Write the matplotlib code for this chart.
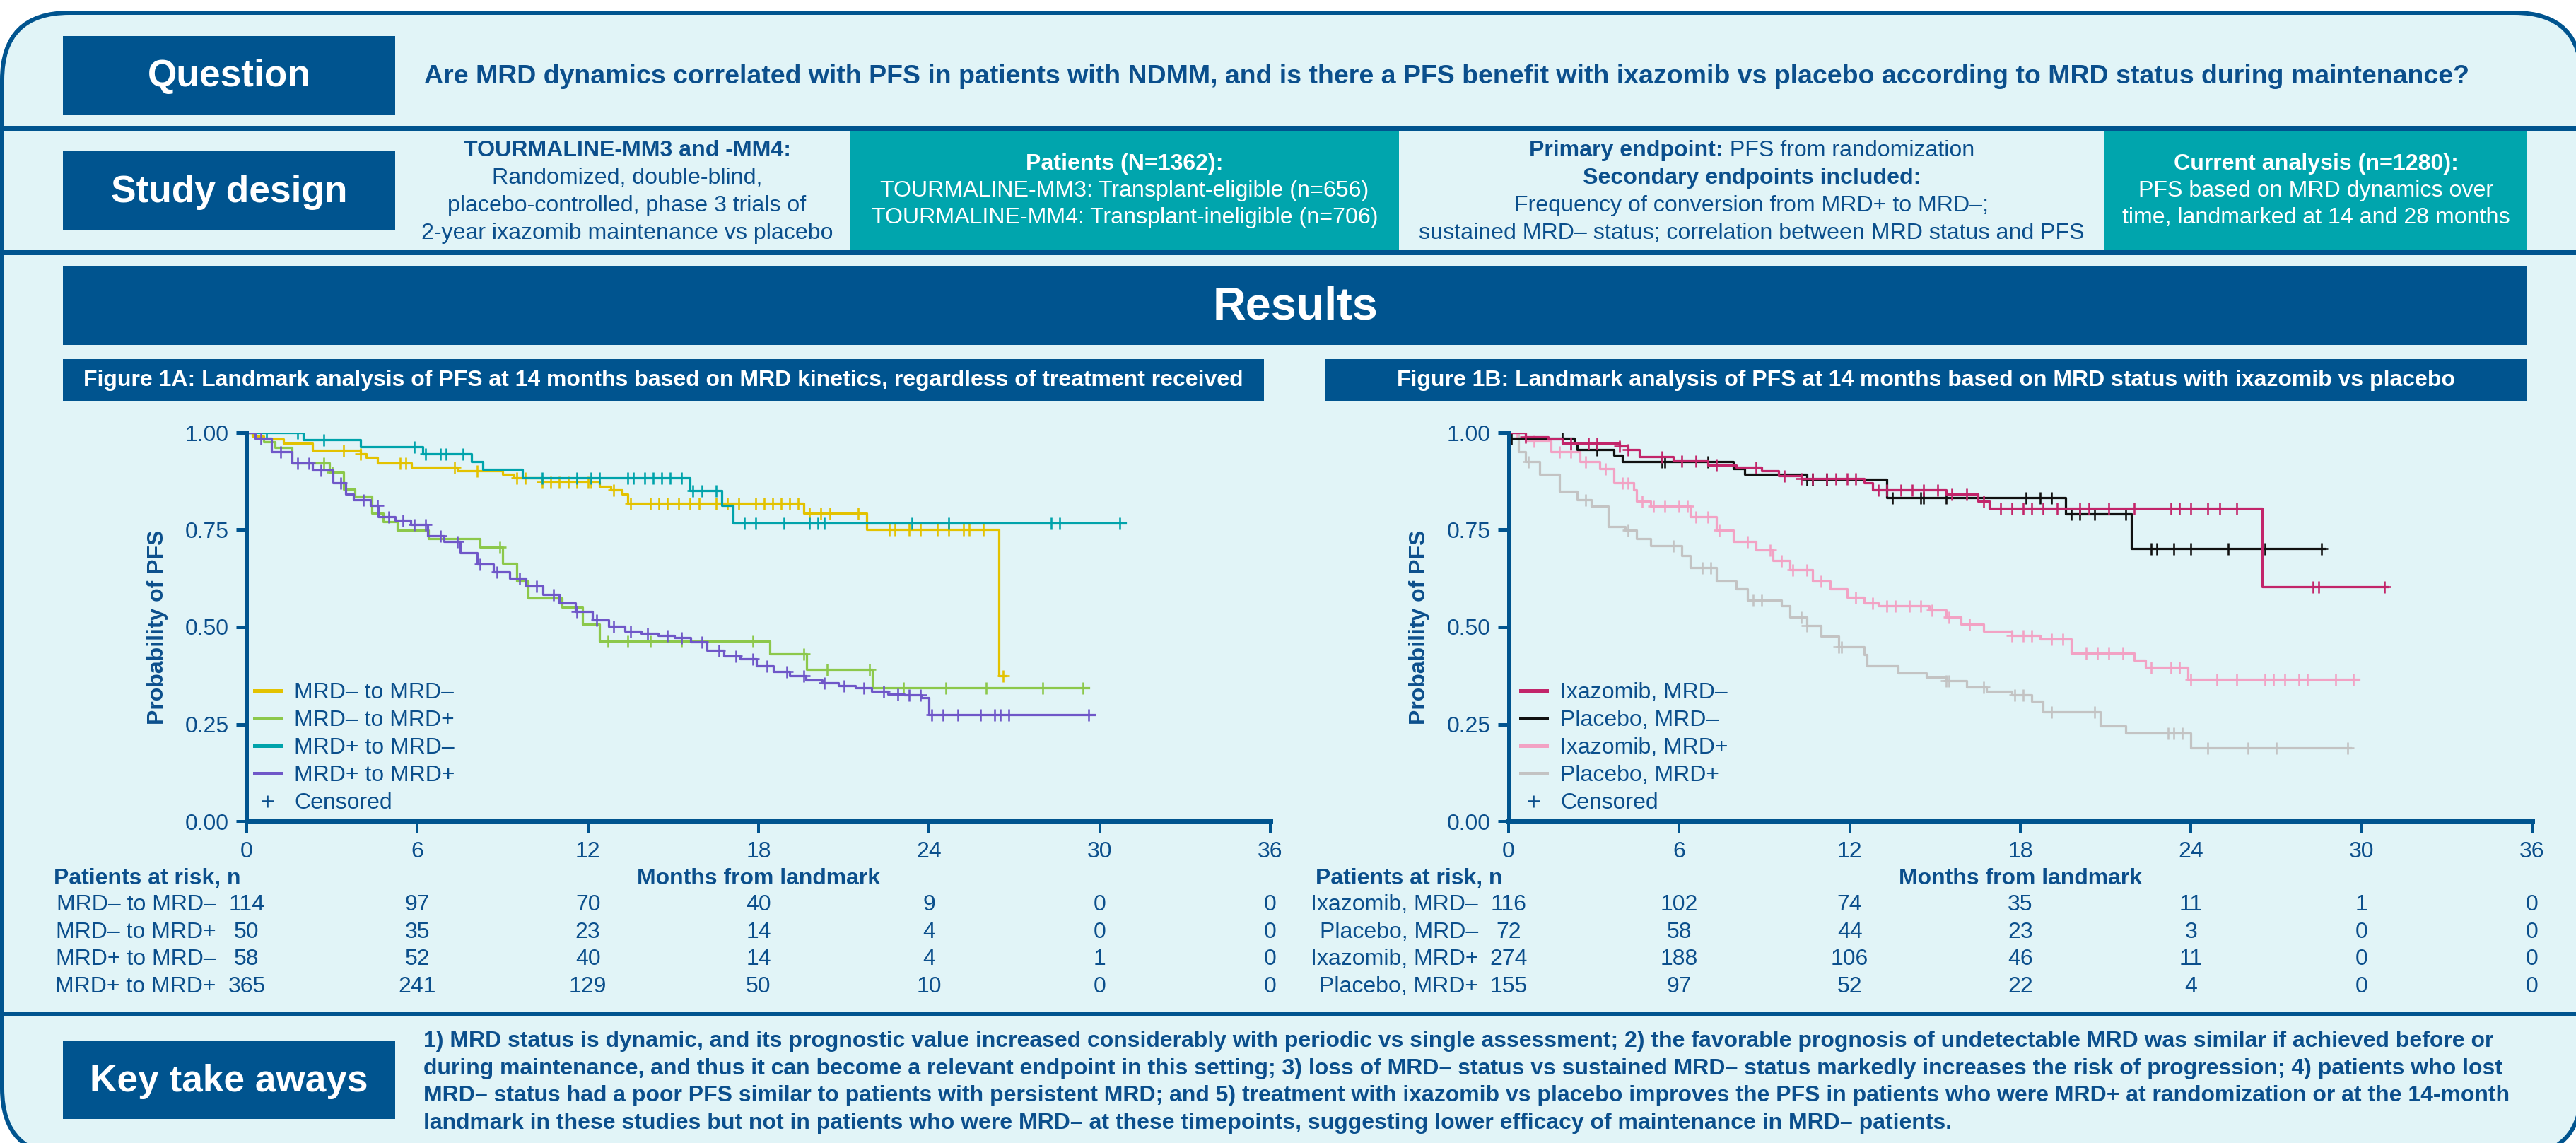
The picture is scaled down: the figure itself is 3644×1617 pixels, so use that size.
import numpy as np
import matplotlib.pyplot as plt
from matplotlib.patches import FancyBboxPatch, Rectangle
from matplotlib.lines import Line2D
from matplotlib import transforms

W, H = 3644, 1617
DPI = 200
plt.rcParams['font.family'] = ['Liberation Sans', 'DejaVu Sans']

NAVY = '#00548f'
TEXT = '#0b4f8c'
TEAL = '#00a5ad'
BG = '#e1f4f7'


def pt(px):
    return px * 72 / DPI


# ---------------- data ----------------
risk_times = [0, 6, 12, 18, 24, 30, 36]

# Figure 1A  (MRD kinetics)
a_labels = ['MRD– to MRD–', 'MRD– to MRD+', 'MRD+ to MRD–', 'MRD+ to MRD+']
a_colors = ['#e3c200', '#8cc84b', '#00a3ab', '#6f57c8']
a_risk = [[114, 97, 70, 40, 9, 0, 0],
          [50, 35, 23, 14, 4, 0, 0],
          [58, 52, 40, 14, 4, 1, 0],
          [365, 241, 129, 50, 10, 0, 0]]

yel_t = [0, 0.2, 0.6, 1.3, 2.3, 4.0, 4.2, 4.6, 5.8, 7.4, 9.0, 9.4, 10.4, 12.4, 12.8, 13.2, 13.4, 19.6, 21.8, 26.45, 26.7]
yel_s = [1.0, 0.991, 0.983, 0.973, 0.955, 0.946, 0.937, 0.921, 0.911, 0.902, 0.892, 0.883, 0.873, 0.862, 0.853, 0.842, 0.818, 0.792, 0.750, 0.375, 0.375]
yel_c = [3.4, 4.0, 5.4, 5.6, 7.3, 8.1, 9.5, 9.8, 10.4, 10.7, 11.0, 11.3, 11.6, 12.0, 12.1, 12.9, 13.5, 14.2, 14.5,
         14.8, 15.2, 15.6, 15.9, 16.5, 16.9, 17.3, 17.9, 18.2, 18.5, 18.8, 19.1, 19.4, 19.8, 20.2, 20.5, 21.5,
         22.6, 22.8, 23.3, 23.7, 24.3, 24.7, 25.2, 25.4, 25.9, 26.6]

grn_t = [0, 0.3, 0.6, 1.0, 1.6, 2.9, 3.4, 3.8, 4.4, 4.8, 5.3, 6.4, 8.2, 9.0, 9.5, 9.9, 11.1, 11.8, 12.4, 18.4, 19.7, 22.0, 29.6]
grn_s = [1.0, 0.986, 0.977, 0.962, 0.921, 0.899, 0.854, 0.836, 0.792, 0.770, 0.749, 0.727, 0.705, 0.664, 0.619, 0.575, 0.551, 0.508, 0.464, 0.431, 0.391, 0.343, 0.343]
grn_c = [2.7, 3.0, 8.9, 12.7, 13.4, 14.2, 15.3, 17.8, 19.6, 20.4, 21.9, 23.1, 24.6, 26.0, 28.0, 29.4]

tea_t = [0, 2.0, 4.0, 6.2, 7.9, 8.3, 9.7, 15.6, 16.7, 17.1, 30.9]
tea_s = [1.0, 0.982, 0.964, 0.945, 0.925, 0.905, 0.883, 0.851, 0.813, 0.767, 0.767]
tea_c = [0.7, 1.8, 2.7, 5.9, 6.3, 6.8, 7.0, 7.6, 10.4, 11.6, 12.1, 12.4, 13.4, 13.6, 14.0, 14.3, 14.6, 14.9,
         15.3, 15.7, 16.0, 16.5, 17.5, 17.9, 18.9, 19.8, 20.1, 20.3, 23.4, 24.7, 28.3, 28.6, 30.7]

pur_t = [0, 0.29, 0.87, 1.59, 2.31, 3.04, 3.47, 3.76, 4.34, 4.63, 5.21, 5.78, 6.36, 6.94, 7.52, 8.10, 8.68,
         9.25, 9.83, 10.41, 10.99, 11.57, 12.15, 12.72, 13.30, 13.88, 14.46, 15.04, 15.62, 16.19, 16.77,
         17.35, 17.93, 18.51, 19.09, 19.66, 20.24, 20.82, 21.40, 21.98, 22.56, 23.13, 23.71, 24.0, 29.8]
pur_s = [1.0, 0.986, 0.950, 0.921, 0.903, 0.871, 0.842, 0.828, 0.813, 0.784, 0.774, 0.763, 0.734, 0.720,
         0.691, 0.662, 0.641, 0.626, 0.605, 0.583, 0.562, 0.540, 0.519, 0.501, 0.490, 0.483, 0.479, 0.472,
         0.461, 0.440, 0.425, 0.418, 0.400, 0.386, 0.375, 0.364, 0.357, 0.350, 0.343, 0.335, 0.328, 0.325,
         0.318, 0.274, 0.274]
pur_c = [0.5, 1.2, 1.8, 2.2, 2.6, 3.3, 4.1, 4.6, 5.0, 5.5, 5.9, 6.3, 6.8, 7.4, 8.2, 8.8, 9.6, 10.2, 10.8,
         11.6, 12.3, 12.9, 13.5, 14.1, 14.8, 15.3, 16.0, 16.6, 17.2, 17.8, 18.3, 19.0, 19.6, 20.3, 21.0,
         21.7, 22.4, 22.9, 23.3, 23.7, 24.1, 24.5, 25.0, 25.8, 26.3, 26.5, 26.8, 29.6]

# Figure 1B  (treatment x MRD status)
b_labels = ['Ixazomib, MRD–', 'Placebo, MRD–', 'Ixazomib, MRD+', 'Placebo, MRD+']
b_colors = ['#c2256a', '#111111', '#f2a2c4', '#c3c3c3']
b_risk = [[116, 102, 74, 35, 11, 1, 0],
          [72, 58, 44, 23, 3, 0, 0],
          [274, 188, 106, 46, 11, 0, 0],
          [155, 97, 52, 22, 4, 0, 0]]

ixn_t = [0, 0.6, 1.4, 1.9, 3.9, 4.2, 4.6, 5.8, 7.0, 8.0, 8.9, 9.5, 10.3, 12.5, 12.8, 15.4, 16.5, 16.9, 26.5, 30.9]
ixn_s = [1.0, 0.989, 0.983, 0.973, 0.966, 0.957, 0.939, 0.928, 0.917, 0.910, 0.902, 0.889, 0.881, 0.871, 0.853, 0.842, 0.824, 0.805, 0.603, 0.603]
ixn_c = [0.6, 2.2, 2.8, 3.1, 3.9, 4.2, 5.4, 6.1, 6.6, 7.3, 8.7, 9.7, 10.3, 10.7, 11.2, 11.5, 11.9, 12.2,
         13.0, 13.3, 13.8, 14.2, 14.6, 15.1, 15.6, 16.1, 16.7, 17.3, 17.7, 18.1, 18.4, 18.8, 19.3, 20.1,
         20.4, 21.1, 22.0, 23.3, 23.6, 24.0, 24.6, 25.0, 25.6, 28.3, 28.5, 30.8]

pln_t = [0, 0.05, 2.3, 2.4, 3.7, 4.0, 7.9, 8.3, 10.5, 13.3, 19.6, 21.9, 28.7]
pln_s = [1.0, 0.986, 0.972, 0.957, 0.941, 0.925, 0.907, 0.892, 0.880, 0.833, 0.790, 0.701, 0.701]
pln_c = [0.1, 1.9, 3.1, 5.4, 5.5, 7.0, 10.5, 10.7, 11.2, 13.5, 14.5, 14.6, 15.4, 18.2, 18.7, 19.1, 19.8,
         20.1, 20.6, 21.7, 22.6, 22.8, 23.4, 24.0, 25.3, 26.6, 28.6]

ixp_t = [0, 0.6, 1.5, 2.5, 3.2, 3.7, 4.4, 4.5, 5.0, 6.4, 7.3, 7.9, 8.7, 9.3, 9.9, 10.7, 11.3, 11.9, 12.5,
         13.0, 14.8, 15.4, 15.9, 16.7, 17.7, 18.7, 19.8, 22.0, 22.4, 23.9, 29.9]
ixp_s = [1.0, 0.978, 0.950, 0.925, 0.907, 0.871, 0.853, 0.824, 0.810, 0.784, 0.749, 0.720, 0.698, 0.670,
         0.648, 0.619, 0.598, 0.576, 0.562, 0.555, 0.544, 0.526, 0.508, 0.490, 0.479, 0.470, 0.432, 0.415,
         0.397, 0.366, 0.366]
ixp_c = [0.3, 0.9, 1.8, 2.2, 2.7, 3.4, 4.0, 4.2, 4.7, 5.1, 5.5, 6.0, 6.3, 6.6, 7.0, 7.4, 8.4, 9.2, 9.6,
         10.0, 10.5, 11.0, 12.2, 12.8, 13.3, 13.6, 14.1, 14.5, 14.9, 15.5, 16.2, 17.7, 18.1, 18.4, 19.1,
         19.5, 20.3, 20.7, 21.1, 21.6, 22.6, 23.3, 23.6, 24.0, 24.9, 25.6, 26.6, 26.9, 27.3, 27.8, 28.1,
         29.1, 29.7]

plp_t = [0, 0.35, 0.6, 1.1, 1.8, 2.4, 2.9, 3.5, 4.1, 4.5, 5.0, 6.1, 6.4, 7.3, 8.0, 8.4, 9.6, 9.9, 10.5,
         11.0, 11.6, 12.5, 12.6, 13.7, 14.7, 15.4, 16.1, 16.8, 17.7, 18.4, 18.8, 20.8, 21.7, 24.0, 29.6]
plp_s = [1.0, 0.950, 0.925, 0.892, 0.849, 0.828, 0.810, 0.759, 0.749, 0.727, 0.709, 0.684, 0.652, 0.619,
         0.598, 0.569, 0.555, 0.526, 0.504, 0.476, 0.450, 0.429, 0.400, 0.382, 0.371, 0.361, 0.346, 0.335,
         0.325, 0.310, 0.282, 0.246, 0.228, 0.190, 0.190]
plp_c = [0.7, 2.7, 4.2, 5.8, 6.8, 7.1, 8.6, 8.9, 10.3, 10.5, 11.6, 11.7, 15.4, 15.5, 16.7, 17.8, 18.1,
         19.1, 20.6, 23.2, 23.4, 23.7, 24.6, 26.0, 27.0, 29.5]

takeaways = [
    "1) MRD status is dynamic, and its prognostic value increased considerably with periodic vs single assessment; 2) the favorable prognosis of undetectable MRD was similar if achieved before or",
    "during maintenance, and thus it can become a relevant endpoint in this setting; 3) loss of MRD– status vs sustained MRD– status markedly increases the risk of progression; 4) patients who lost",
    "MRD– status had a poor PFS similar to patients with persistent MRD; and 5) treatment with ixazomib vs placebo improves the PFS in patients who were MRD+ at randomization or at the 14-month",
    "landmark in these studies but not in patients who were MRD– at these timepoints, suggesting lower efficacy of maintenance in MRD– patients.",
]

# ---------------- canvas ----------------
fig = plt.figure(figsize=(W / DPI, H / DPI), dpi=DPI, facecolor='white')
bg = fig.add_axes([0, 0, 1, 1])
bg.set_xlim(0, W)
bg.set_ylim(H, 0)
bg.axis('off')
R = fig.canvas.get_renderer()


def box(x0, y0, x1, y1, color):
    bg.add_patch(Rectangle((x0, y0), x1 - x0, y1 - y0, fc=color, lw=0))


def fit(t, width):
    w = t.get_window_extent(R).width
    t.set_fontsize(t.get_fontsize() * width / w)
    return t.get_fontsize()


def rich(xc, y, parts, size):
    ts = [bg.text(0, y, s, fontsize=size, fontweight=wt, color=c, ha='left', va='center')
          for s, wt, c in parts]
    ws = [t.get_window_extent(R).width for t in ts]
    x = xc - sum(ws) / 2
    for t, w in zip(ts, ws):
        t.set_x(x)
        x += w


bg.add_patch(FancyBboxPatch((3, 18), W + 5, H, boxstyle='round,pad=0,rounding_size=95',
                            fc=BG, ec=NAVY, lw=pt(6)))

# separators
for y0, y1 in [(178, 185), (354, 361), (1431, 1437)]:
    box(0, y0, W, y1, NAVY)

# teal boxes
box(1203, 185, 1979, 354, TEAL)
box(2977, 185, 3575, 354, TEAL)

# navy label boxes
box(89, 51, 559, 162, NAVY)
box(89, 214, 559, 325, NAVY)
box(89, 1473, 559, 1583, NAVY)
box(89, 377, 3575, 488, NAVY)
box(89, 508, 1788, 567, NAVY)
box(1875, 508, 3575, 567, NAVY)

t = bg.text(324, 272, 'Study design', color='white', fontweight='bold', fontsize=18, ha='center', va='center')
lab_fs = fit(t, 334)
bg.text(324, 108, 'Question', color='white', fontweight='bold', fontsize=lab_fs, ha='center', va='center')
bg.text(324, 1530, 'Key take aways', color='white', fontweight='bold', fontsize=lab_fs, ha='center', va='center')

t = bg.text(1832, 434, 'Results', color='white', fontweight='bold', fontsize=22, ha='center', va='center')
fit(t, 234)

t = bg.text(600, 108, 'Are MRD dynamics correlated with PFS in patients with NDMM, and is there a PFS benefit '
            'with ixazomib vs placebo according to MRD status during maintenance?',
            color=TEXT, fontweight='bold', fontsize=11, ha='left', va='center')
fit(t, 2886)

# study design blocks
t = bg.text(2478, 330, 'sustained MRD– status; correlation between MRD status and PFS',
            color=TEXT, fontsize=10, ha='center', va='center')
blk = fit(t, 938)
rich(2478, 213, [('Primary endpoint:', 'bold', TEXT), (' PFS from randomization', 'normal', TEXT)], blk)
bg.text(2478, 252, 'Secondary endpoints included:', color=TEXT, fontweight='bold', fontsize=blk, ha='center', va='center')
bg.text(2478, 291, 'Frequency of conversion from MRD+ to MRD–;', color=TEXT, fontsize=blk, ha='center', va='center')

bg.text(887, 213, 'TOURMALINE-MM3 and -MM4:', color=TEXT, fontweight='bold', fontsize=blk, ha='center', va='center')
for yy, s in zip([252, 291, 330], ['Randomized, double-blind,', 'placebo-controlled, phase 3 trials of',
                                   '2-year ixazomib maintenance vs placebo']):
    bg.text(887, yy, s, color=TEXT, fontsize=blk, ha='center', va='center')

bg.text(1591, 232, 'Patients (N=1362):', color='white', fontweight='bold', fontsize=blk, ha='center', va='center')
bg.text(1591, 270, 'TOURMALINE-MM3: Transplant-eligible (n=656)', color='white', fontsize=blk, ha='center', va='center')
bg.text(1591, 308, 'TOURMALINE-MM4: Transplant-ineligible (n=706)', color='white', fontsize=blk, ha='center', va='center')

bg.text(3276, 232, 'Current analysis (n=1280):', color='white', fontweight='bold', fontsize=blk, ha='center', va='center')
bg.text(3276, 270, 'PFS based on MRD dynamics over', color='white', fontsize=blk, ha='center', va='center')
bg.text(3276, 308, 'time, landmarked at 14 and 28 months', color='white', fontsize=blk, ha='center', va='center')

# figure headers
t = bg.text(938, 538, 'Figure 1A: Landmark analysis of PFS at 14 months based on MRD kinetics, regardless of treatment received',
            color='white', fontweight='bold', fontsize=10, ha='center', va='center')
hdr = fit(t, 1645)
bg.text(2725, 538, 'Figure 1B: Landmark analysis of PFS at 14 months based on MRD status with ixazomib vs placebo',
        color='white', fontweight='bold', fontsize=hdr, ha='center', va='center')

# takeaways
t = bg.text(599, 1473, takeaways[0], color=TEXT, fontweight='bold', fontsize=10, ha='left', va='center')
tk = fit(t, 2932)
for i, s in enumerate(takeaways[1:], start=1):
    bg.text(599, 1473 + 38.5 * i, s, color=TEXT, fontweight='bold', fontsize=tk, ha='left', va='center')

# ---------------- KM plots ----------------
t = bg.text(0, -100, 'Patients at risk, n', fontweight='bold', fontsize=10)
tab = fit(t, 265)
t.remove()

AX_TOP, AX_BOT, AX_W = 612, 1162, 1448


def surv_at(tt, ss, c):
    idx = np.searchsorted(tt, c, side='right') - 1
    return np.asarray(ss)[idx]


def km_axes(x0, curves, colors, labels, risk, leg_x):
    ax = fig.add_axes([x0 / W, 1 - AX_BOT / H, AX_W / W, (AX_BOT - AX_TOP) / H])
    ax.set_facecolor('none')
    for (tt, ss, cc), col in curves:
        ax.step(tt, ss, where='post', color=col, lw=pt(3.2))
        ax.plot(cc, surv_at(tt, ss, cc), ls='none', marker='+', ms=pt(17), mew=pt(2.6), color=col)
    ax.set_xlim(0, 36)
    ax.set_ylim(0, 1)
    ax.set_xticks(risk_times)
    ax.set_yticks([0, 0.25, 0.5, 0.75, 1.0])
    ax.set_yticklabels(['0.00', '0.25', '0.50', '0.75', '1.00'])
    for side in ['top', 'right']:
        ax.spines[side].set_visible(False)
    ax.spines['left'].set_color(NAVY)
    ax.spines['left'].set_linewidth(pt(5))
    ax.spines['bottom'].set_color(NAVY)
    ax.spines['bottom'].set_linewidth(pt(7))
    ax.tick_params(axis='y', colors=NAVY, labelcolor=TEXT, length=pt(15), width=pt(5), pad=pt(10), labelsize=tab)
    ax.tick_params(axis='x', colors=NAVY, labelcolor=TEXT, length=pt(17), width=pt(4), pad=pt(11), labelsize=tab)
    bg.text(x0 - 126, (AX_TOP + AX_BOT) / 2, 'Probability of PFS', rotation=90, color=TEXT, fontweight='bold',
            fontsize=pt(32), ha='center', va='center')

    handles = [Line2D([], [], color=c, lw=pt(5)) for c in colors]
    handles.append(Line2D([], [], ls='none', marker='+', color=TEXT, ms=pt(17), mew=pt(2.6)))
    ax.legend(handles, labels + ['Censored'], loc='lower left', bbox_to_anchor=(leg_x, 0.02),
              frameon=False, borderpad=0, borderaxespad=0, handlelength=1.15, handletextpad=0.6,
              labelspacing=0.28, fontsize=tab, labelcolor=TEXT)

    tr = transforms.blended_transform_factory(ax.transData, bg.transData)
    bg.text(x0 - 273, 1243, 'Patients at risk, n', color=TEXT, fontweight='bold', fontsize=tab, ha='left', va='center')
    bg.text(18, 1243, 'Months from landmark', color=TEXT, fontweight='bold', fontsize=tab,
            ha='center', va='center', transform=tr)
    for i, (lab, row) in enumerate(zip(labels, risk)):
        y = 1280 + 38.5 * i
        bg.text(x0 - 43, y, lab, color=TEXT, fontsize=tab, ha='right', va='center')
        for xm, n in zip(risk_times, row):
            bg.text(xm, y, str(n), color=TEXT, fontsize=tab, ha='center', va='center', transform=tr)
    return ax


km_axes(349,
        [((yel_t, yel_s, yel_c), a_colors[0]), ((grn_t, grn_s, grn_c), a_colors[1]),
         ((tea_t, tea_s, tea_c), a_colors[2]), ((pur_t, pur_s, pur_c), a_colors[3])],
        a_colors, a_labels, a_risk, 0.0076)

km_axes(2134,
        [((plp_t, plp_s, plp_c), b_colors[3]), ((ixp_t, ixp_s, ixp_c), b_colors[2]),
         ((pln_t, pln_s, pln_c), b_colors[1]), ((ixn_t, ixn_s, ixn_c), b_colors[0])],
        b_colors, b_labels, b_risk, 0.0117)

fig.savefig('out.png', dpi=DPI, facecolor='white')
